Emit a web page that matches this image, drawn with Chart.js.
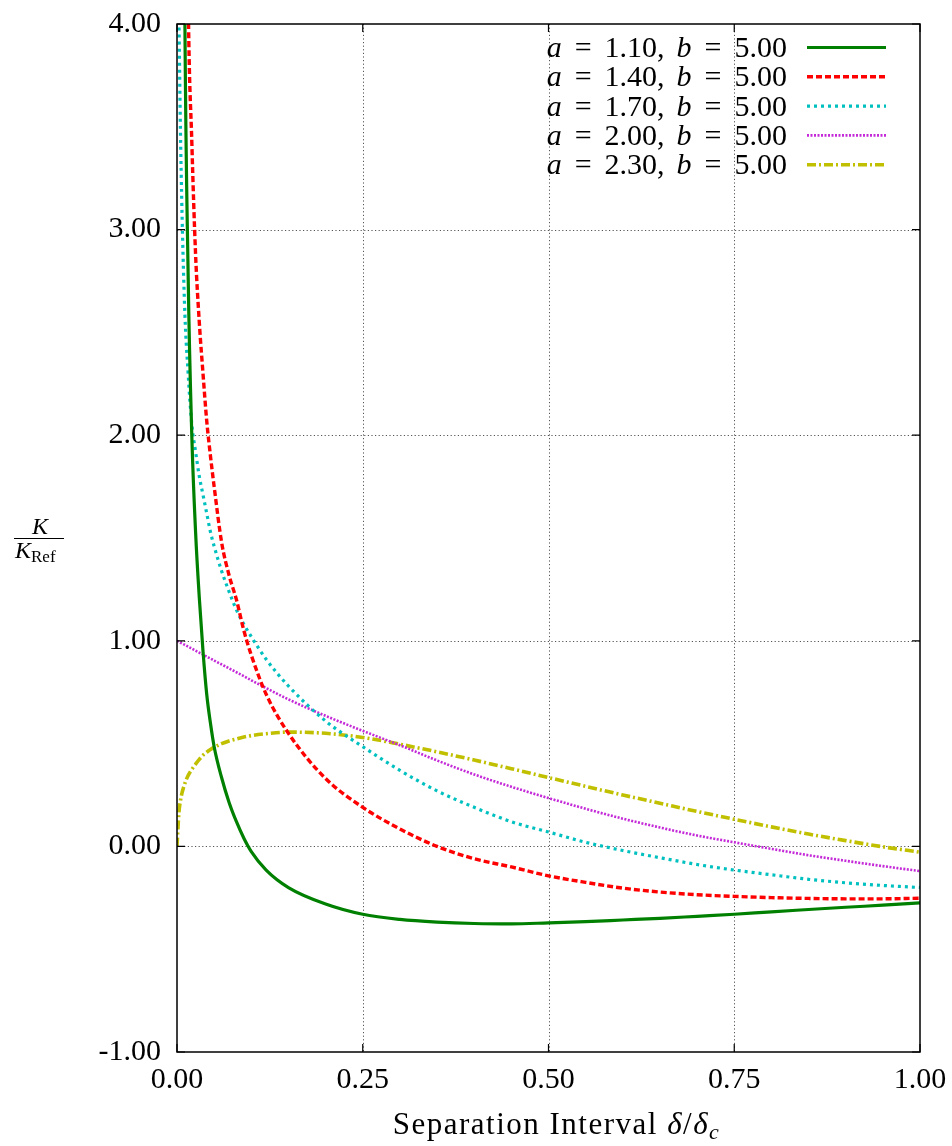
<!DOCTYPE html>
<html>
<head>
<meta charset="utf-8">
<script src="https://cdn.jsdelivr.net/npm/chart.js@4"></script>
<style>
    html, body { margin: 0; padding: 0; background: #ffffff; }
    #wrap { width: 952px; height: 1146px; }
</style>
</head>
<body>
<div id="wrap"><canvas id="chart" width="952" height="1146"></canvas></div>
<script>
// Separation interval delta/delta_c (shared x grid, denser near zero)
var separation = [0, 0.0025, 0.005, 0.01, 0.015, 0.02, 0.025, 0.03, 0.035, 0.04, 0.045, 0.05,
    0.06, 0.07, 0.08, 0.09, 0.1, 0.12, 0.15, 0.2, 0.25, 0.3, 0.35, 0.4, 0.45, 0.5,
    0.55, 0.6, 0.65, 0.7, 0.75, 0.8, 0.85, 0.9, 0.95, 1.0];

// K / K_Ref, one list per curve (null = not drawn)
var k_a110 = [null, null, 9.0, 4.35, 2.78, 1.99, 1.53, 1.21, 0.95, 0.74, 0.6, 0.485,
    0.335, 0.215, 0.12, 0.04, -0.025, -0.115, -0.2, -0.28, -0.33, -0.355, -0.368, -0.375, -0.377, -0.372,
    -0.366, -0.358, -0.35, -0.34, -0.33, -0.318, -0.307, -0.296, -0.286, -0.275];
var k_a140 = [null, null, null, 6.5, 4.15, 3.42, 2.88, 2.55, 2.3, 2.07, 1.9, 1.75,
    1.48, 1.32, 1.2, 1.05, 0.93, 0.74, 0.55, 0.33, 0.19, 0.085, 0.0, -0.06, -0.1, -0.143,
    -0.175, -0.203, -0.222, -0.235, -0.243, -0.249, -0.253, -0.255, -0.255, -0.252];
var k_a170 = [null, 4.05, 3.4, 2.65, 2.3, 2.05, 1.92, 1.8, 1.71, 1.62, 1.53, 1.46,
    1.34, 1.24, 1.15, 1.08, 1.02, 0.91, 0.78, 0.61, 0.485, 0.37, 0.27, 0.19, 0.12, 0.07,
    0.02, -0.02, -0.055, -0.088, -0.115, -0.138, -0.16, -0.177, -0.19, -0.2];
var k_a200 = [1.0, 0.995, 0.99, 0.981, 0.971, 0.962, 0.952, 0.942, 0.933, 0.923, 0.914, 0.904,
    0.885, 0.866, 0.847, 0.828, 0.808, 0.77, 0.715, 0.635, 0.562, 0.492, 0.418, 0.35, 0.29, 0.235,
    0.183, 0.135, 0.092, 0.053, 0.02, -0.012, -0.043, -0.07, -0.096, -0.12];
var k_a230 = [0, 0.16, 0.23, 0.3, 0.345, 0.375, 0.4, 0.423, 0.443, 0.458, 0.471, 0.482,
    0.5, 0.513, 0.523, 0.532, 0.539, 0.548, 0.556, 0.55, 0.53, 0.497, 0.46, 0.42, 0.378, 0.335,
    0.292, 0.25, 0.21, 0.17, 0.132, 0.095, 0.06, 0.028, -0.002, -0.028];

var a_labels = ["1.10", "1.40", "1.70", "2.00", "2.30"];
var b_label = "5.00";
var x_ticks = [0, 0.25, 0.5, 0.75, 1];
var y_ticks = [-1, 0, 1, 2, 3, 4];

var serif = "'Liberation Serif', 'DejaVu Serif', serif";

var styles = [
    {"color": "#008000", "width": 3.2, "dash": []},
    {"color": "#ff0000", "width": 3.4, "dash": [6, 3]},
    {"color": "#00c0c0", "width": 3.2, "dash": [3, 4]},
    {"color": "#c42ad8", "width": 2.6, "dash": [2, 1.5]},
    {"color": "#c0c000", "width": 3.6, "dash": [9, 3, 2, 3]}
];

var curves = [k_a110, k_a140, k_a170, k_a200, k_a230];

function to_points (values) {
    var points = [];

    for (var i = 0; i < separation.length; i++) {
        points.push({"x": separation[i], "y": values[i]});
    }

    return points;
}

var datasets = [];

for (var i = 0; i < curves.length; i++) {
    datasets.push({
        "label": "a = " + a_labels[i] + ", b = " + b_label,
        "data": to_points(curves[i]),
        "borderColor": styles[i]["color"],
        "borderWidth": styles[i]["width"],
        "borderDash": styles[i]["dash"],
        "pointRadius": 0,
        "fill": false,
        "cubicInterpolationMode": "monotone",
        "spanGaps": false,
        "clip": 0
    });
}

// Draw pieces of text left to right, italic where asked
function draw_pieces (ctx, pieces, start_x, baseline) {
    var x = start_x;

    for (var i = 0; i < pieces.length; i++) {
        var p = pieces[i];

        if (p.gap) {
            x += p.gap;
            continue;
        }

        ctx.font = (p.italic ? "italic " : "") + p.size + "px " + serif;
        ctx.fillText(p.text, x, baseline + (p.shift || 0));
        x += ctx.measureText(p.text).width;
    }

    return x;
}

function pieces_width (ctx, pieces) {
    var w = 0;

    for (var i = 0; i < pieces.length; i++) {
        if (pieces[i].gap) {
            w += pieces[i].gap;
            continue;
        }

        ctx.font = (pieces[i].italic ? "italic " : "") + pieces[i].size + "px " + serif;
        w += ctx.measureText(pieces[i].text).width;
    }

    return w;
}

// Keep the plot box where the reference has it (labels may overhang)
function drop_padding (scale) {
    scale.paddingLeft = 0;
    scale.paddingRight = 0;
    scale.paddingTop = 0;
    scale.paddingBottom = 0;
}

var frame_plugin = {
    id: "frame",
    beforeDatasetsDraw: function (chart) {
        var ctx = chart.ctx;
        var area = chart.chartArea;
        var xs = chart.scales.x;
        var ys = chart.scales.y;

        ctx.save();
        ctx.strokeStyle = "#555555";
        ctx.lineWidth = 1;
        ctx.setLineDash([1.2, 2.4]);

        for (var i = 1; i < x_ticks.length - 1; i++) {
            var px = Math.round(xs.getPixelForValue(x_ticks[i])) + 0.5;
            ctx.beginPath();
            ctx.moveTo(px, area.top);
            ctx.lineTo(px, area.bottom);
            ctx.stroke();
        }

        for (var j = 1; j < y_ticks.length - 1; j++) {
            var py = Math.round(ys.getPixelForValue(y_ticks[j])) + 0.5;
            ctx.beginPath();
            ctx.moveTo(area.left, py);
            ctx.lineTo(area.right, py);
            ctx.stroke();
        }

        ctx.restore();
    },
    afterDatasetsDraw: function (chart) {
        var ctx = chart.ctx;
        var area = chart.chartArea;
        var xs = chart.scales.x;
        var ys = chart.scales.y;
        var tick = 8;

        ctx.save();
        ctx.setLineDash([]);
        ctx.strokeStyle = "#000000";
        ctx.lineWidth = 1.5;
        ctx.strokeRect(area.left, area.top, area.right - area.left, area.bottom - area.top);

        ctx.lineWidth = 1.2;
        ctx.beginPath();

        for (var i = 0; i < x_ticks.length; i++) {
            var px = xs.getPixelForValue(x_ticks[i]);
            ctx.moveTo(px, area.bottom);
            ctx.lineTo(px, area.bottom - tick);
            ctx.moveTo(px, area.top);
            ctx.lineTo(px, area.top + tick);
        }

        for (var j = 0; j < y_ticks.length; j++) {
            var py = ys.getPixelForValue(y_ticks[j]);
            ctx.moveTo(area.left, py);
            ctx.lineTo(area.left + tick, py);
            ctx.moveTo(area.right, py);
            ctx.lineTo(area.right - tick, py);
        }

        ctx.stroke();

        // Legend, top right inside the plot
        ctx.fillStyle = "#000000";
        ctx.textBaseline = "alphabetic";
        ctx.textAlign = "left";

        for (var k = 0; k < a_labels.length; k++) {
            var row_y = area.top + 23.5 + k * 29.3;
            var pieces = [
                {"text": "a", "italic": true, "size": 30},
                {"gap": 13},
                {"text": "=", "size": 30},
                {"gap": 13},
                {"text": a_labels[k] + ",", "size": 30},
                {"gap": 12},
                {"text": "b", "italic": true, "size": 30},
                {"gap": 13},
                {"text": "=", "size": 30},
                {"gap": 13},
                {"text": b_label, "size": 30}
            ];
            var w = pieces_width(ctx, pieces);

            draw_pieces(ctx, pieces, 787 - w, row_y + 9.5);

            ctx.save();
            ctx.strokeStyle = styles[k]["color"];
            ctx.lineWidth = styles[k]["width"];
            ctx.setLineDash(styles[k]["dash"]);
            ctx.beginPath();
            ctx.moveTo(807, row_y);
            ctx.lineTo(886, row_y);
            ctx.stroke();
            ctx.restore();
        }

        // X axis title
        var title = [
            {"text": "Separation Interval ", "size": 31},
            {"text": "\u03b4", "italic": true, "size": 31},
            {"text": "/", "size": 31},
            {"text": "\u03b4", "italic": true, "size": 31},
            {"text": "c", "italic": true, "size": 22, "shift": 5}
        ];
        ctx.letterSpacing = "1.5px";
        var tw = pieces_width(ctx, title);
        draw_pieces(ctx, title, (area.left + area.right) / 2 + 8 - tw / 2, 1134);
        ctx.letterSpacing = "0px";

        // Y axis title as a fraction
        var mid_y = (area.top + area.bottom) / 2;
        ctx.font = "italic 24px " + serif;
        ctx.textAlign = "center";
        ctx.fillText("K", 40, mid_y - 4);
        ctx.textAlign = "left";

        ctx.lineWidth = 1;
        ctx.beginPath();
        ctx.moveTo(14, mid_y + 0.5);
        ctx.lineTo(64, mid_y + 0.5);
        ctx.stroke();

        var denom = [
            {"text": "K", "italic": true, "size": 24},
            {"text": "Ref", "size": 17, "shift": 4}
        ];
        draw_pieces(ctx, denom, 15, mid_y + 20);

        ctx.restore();
    }
};

new Chart(document.getElementById("chart"), {
    "type": "line",
    "data": {"datasets": datasets},
    "options": {
        "responsive": false,
        "animation": false,
        "devicePixelRatio": 1,
        "layout": {"padding": {"left": 0, "right": 32, "top": 24, "bottom": 0}},
        "plugins": {
            "legend": {"display": false},
            "tooltip": {"enabled": false},
            "title": {"display": false}
        },
        "scales": {
            "x": {
                "type": "linear",
                "min": 0,
                "max": 1,
                "afterBuildTicks": function (scale) {
                    scale.ticks = x_ticks.map(function (v) { return {"value": v}; });
                },
                "afterFit": function (scale) {
                    scale.height = 94;
                    drop_padding(scale);
                },
                "grid": {"display": false, "drawTicks": false},
                "border": {"display": false},
                "ticks": {
                    "color": "#000000",
                    "padding": 10,
                    "maxRotation": 0,
                    "autoSkip": false,
                    "font": {"family": serif, "size": 30},
                    "callback": function (v) { return Number(v).toFixed(2); }
                }
            },
            "y": {
                "type": "linear",
                "min": -1,
                "max": 4,
                "afterBuildTicks": function (scale) {
                    scale.ticks = y_ticks.map(function (v) { return {"value": v}; });
                },
                "afterFit": function (scale) {
                    scale.width = 177;
                    drop_padding(scale);
                },
                "grid": {"display": false, "drawTicks": false},
                "border": {"display": false},
                "ticks": {
                    "color": "#000000",
                    "padding": 16,
                    "autoSkip": false,
                    "font": {"family": serif, "size": 30},
                    "callback": function (v) { return Number(v).toFixed(2); }
                }
            }
        }
    },
    "plugins": [frame_plugin]
});
</script>
</body>
</html>
